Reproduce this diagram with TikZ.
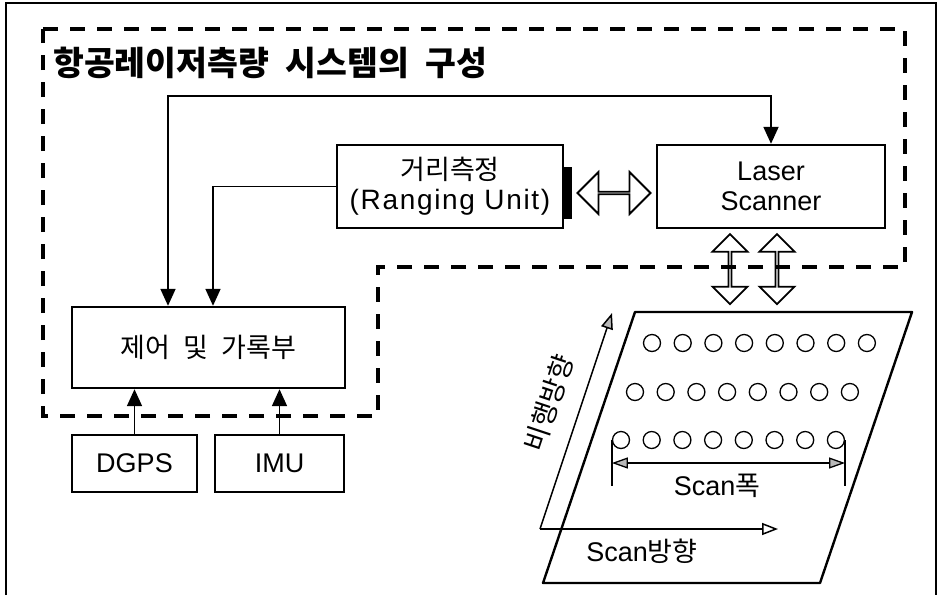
\documentclass[tikz,border=0pt]{standalone}
\usepackage{fontspec}
\setmainfont{Liberation Sans}
\newfontfamily\kr[WordSpace=2.2]{Noto Sans CJK KR}
\usetikzlibrary{arrows.meta}
\usetikzlibrary{shapes.arrows}
\usetikzlibrary{calc}

\tikzset{
  box/.style={draw, line width=2.4pt, inner sep=0pt, align=center,
    font=\fontsize{27}{30}\selectfont},
  conn/.style={line width=1.8pt},
  endtip/.style={-{Triangle[length=17pt,width=15pt]}},
  zone/.style={line width=3.8pt, dash pattern=on 15pt off 12pt},
  hollow/.style={double arrow, draw, line width=1.8pt, inner sep=0pt},
  spot/.style={circle, draw, line width=1.3pt, minimum size=17pt, inner sep=0pt},
  lbl/.style={inner sep=0pt, font=\fontsize{27}{30}\selectfont},
}

\begin{document}
\begin{tikzpicture}[x=1pt, y=-1pt]
  \useasboundingbox (0,0) rectangle (939,595);
  % frame and system border
  \draw[line width=1.5pt] (6,595) -- (6,3) -- (936,3) -- (936,595);
  \draw[zone] (43,29) -- (905,29) -- (905,267) -- (378,267) -- (378,416) -- (43,416) -- cycle;
  \node[anchor=west, inner sep=0pt, font=\fontsize{33.5}{36}\selectfont\kr\bfseries] (title) at (53,63) {항공레이저측량 시스템의 구성};

  % boxes
  \node[box, minimum width=226pt, minimum height=83pt] (rng) at (450,186.5)
    {{\kr 거리측정}\\{\fontsize{28}{30}\selectfont\addfontfeature{LetterSpace=6}(Ranging Unit)}};
  \node[fill, inner sep=0pt, minimum width=9pt, minimum height=52pt] (bar) at (567.5,193) {};
  \node[box, minimum width=228pt, minimum height=83pt] (laser) at (771,186.5) {Laser\\Scanner};
  \node[box, minimum width=273pt, minimum height=81pt] (ctrl) at (208.5,347.5) {\kr 제어 및 가록부};
  \node[box, minimum width=125pt, minimum height=57pt] (dgps) at (134.5,463.5) {DGPS};
  \node[box, minimum width=129pt, minimum height=57pt] (imu) at (279.5,463.5) {IMU};

  % connectors
  \draw[conn, {Triangle[length=17pt,width=15pt]}-{Triangle[length=17pt,width=15pt]}]
    ([xshift=-40.5pt]ctrl.north) -- ++(0,-210) -| (laser.north);
  \draw[conn, endtip] (rng.west) -| ([xshift=4.5pt]ctrl.north);
  \draw[conn, endtip] (dgps.north) -- (dgps.north |- ctrl.south);
  \draw[conn, endtip] (imu.north) -- (imu.north |- ctrl.south);

  % hollow arrows
  \coordinate (linkend) at (bar.east -| laser.west);
  \node[hollow, minimum height=73pt, minimum width=42pt, double arrow head extend=13.5pt]
    (link) at ($(bar.east)!0.5!(linkend)$) {};
  \node[hollow, rotate=90, minimum height=70pt, minimum width=35pt, double arrow head extend=9.5pt]
    (beam1) at ([xshift=-41pt,yshift=-40pt]laser.south) {};
  \node[hollow, rotate=90, minimum height=70pt, minimum width=35pt, double arrow head extend=9.5pt]
    (beam2) at ([xshift=6pt,yshift=-40pt]laser.south) {};

  % scanned strip
  \draw[line width=2.4pt, line join=round] (635,312) -- (912,312) -- (820,583) -- (543,583) -- cycle;
  \foreach \r/\y/\x in {1/343/652,2/392/635,3/440/621}
    \foreach \c in {1,...,8}
      \node[spot] (s\r\c) at ({\x+(\c-1)*30.7},\y) {};
  \draw[line width=1.3pt] (s31.west) -- ++(0,46);
  \draw[line width=1.3pt] (s38.east) -- ++(0,46);
  \draw[line width=1.3pt, {Triangle[length=16pt,width=11pt,fill=gray!55]}-{Triangle[length=16pt,width=11pt,fill=gray!55]}]
    ([yshift=-23pt]s31.west) -- ([yshift=-23pt]s38.east);
  \node[lbl] (swidth) at (717,486) {Scan{\kr 폭}};

  \coordinate (org) at (540,529);
  \draw[line width=1.5pt, -{Triangle[open,length=16pt,width=12pt]}] (org) -- ++(238,0);
  \draw[line width=1.5pt, -{Triangle[length=16pt,width=12pt,fill=gray!55]}] (org) -- ++(72,-216);
  \node[lbl] (sdir) at (642,551) {Scan{\kr 방향}};
  \node[lbl, rotate=71.6] (flight) at (549,403) {\kr 비행방향};
\end{tikzpicture}
\end{document}
